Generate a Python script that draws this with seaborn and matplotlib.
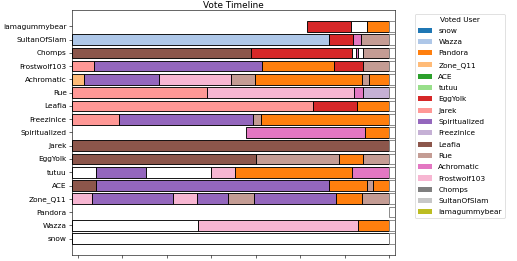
import matplotlib
matplotlib.use("Agg")
import matplotlib.pyplot as plt
from matplotlib.patches import Patch
import seaborn as sns

# Voters, bottom row first (same order the legend uses)
users = ["snow", "Wazza", "Pandora", "Zone_Q11", "ACE", "tutuu", "EggYolk",
         "Jarek", "Spiritualized", "FreezinIce", "Leafia", "Rue", "Achromatic",
         "Frostwolf103", "Chomps", "SultanOfSlam", "iamagummybear"]

# time axis in days
START = -0.135
END = 7.0
tick_days = [0, 1, 2, 3, 4, 5, 6, 7]

# (time the vote was cast, who got the vote); None = unvoted
snow_votes = [(START, None)]
wazza_votes = [(START, None), (2.70, "Frostwolf103"), (6.31, "Pandora")]
pandora_votes = []
zone_q11_votes = [(START, "Frostwolf103"), (0.32, "Spiritualized"), (2.15, "Frostwolf103"),
                  (2.69, "Spiritualized"), (3.38, "Rue"), (3.97, "Spiritualized"),
                  (5.81, "Pandora"), (6.40, "Rue")]
ace_votes = [(START, "Leafia"), (0.40, "Spiritualized"), (5.66, "Pandora"),
             (6.50, "Rue"), (6.64, "Pandora")]
tutuu_votes = [(START, None), (0.40, "Spiritualized"), (1.53, None),
               (2.99, "Frostwolf103"), (3.53, "Pandora"), (6.17, "Achromatic")]
eggyolk_votes = [(START, "Leafia"), (4.00, "Rue"), (5.87, "Pandora"), (6.42, "Rue")]
jarek_votes = [(START, "Leafia")]
spiritualized_votes = [(3.78, "Achromatic"), (6.47, "Pandora")]
freezinice_votes = [(START, "Jarek"), (0.93, "Spiritualized"), (3.95, "Rue"), (4.13, "Pandora")]
leafia_votes = [(START, "Jarek"), (5.28, "EggYolk"), (6.29, "Pandora")]
rue_votes = [(START, "Jarek"), (2.90, "Frostwolf103"), (6.21, "Achromatic"), (6.41, "FreezinIce")]
achromatic_votes = [(START, "Zone_Q11"), (0.135, "Spiritualized"), (1.82, "Frostwolf103"),
                    (3.44, "Rue"), (3.99, "Pandora"), (6.40, "Rue"), (6.55, "Pandora")]
frostwolf103_votes = [(START, "Jarek"), (0.37, "Spiritualized"), (4.15, "Pandora"),
                      (5.77, "EggYolk"), (6.42, "Rue")]
chomps_votes = [(START, "Leafia"), (3.90, "EggYolk"), (6.16, None), (6.25, "Achromatic"),
                (6.31, None), (6.41, "Rue")]
sultanofslam_votes = [(START, "Wazza"), (5.64, "EggYolk"), (6.18, "Achromatic"), (6.38, "Rue")]
iamagummybear_votes = [(5.16, "EggYolk"), (6.14, None), (6.50, "Pandora")]

timelines = {
    "snow": snow_votes, "Wazza": wazza_votes, "Pandora": pandora_votes,
    "Zone_Q11": zone_q11_votes, "ACE": ace_votes, "tutuu": tutuu_votes,
    "EggYolk": eggyolk_votes, "Jarek": jarek_votes, "Spiritualized": spiritualized_votes,
    "FreezinIce": freezinice_votes, "Leafia": leafia_votes, "Rue": rue_votes,
    "Achromatic": achromatic_votes, "Frostwolf103": frostwolf103_votes,
    "Chomps": chomps_votes, "SultanOfSlam": sultanofslam_votes,
    "iamagummybear": iamagummybear_votes,
}


def plot_vote_timeline():
    palette = dict(zip(users, sns.color_palette("tab20", len(users))))

    fig = plt.figure(figsize=(517 / 53, 261 / 53), dpi=53)
    ax = fig.add_subplot(111)
    fig.subplots_adjust(left=0.139, right=0.764, top=0.962, bottom=0.023)

    for row, user in enumerate(users):
        votes = timelines[user]
        times = [v[0] for v in votes] + [END]
        for (t, target), t_next in zip(votes, times[1:]):
            color = "white" if target is None else palette[target]
            ax.barh(row, t_next - t, left=t, height=0.8, color=color,
                    edgecolor="black", linewidth=1.2)
        # still-open slot after the last recorded vote
        ax.barh(row, 0.3, left=END, height=0.8, color="white",
                edgecolor="gray", linewidth=1.2)

    ax.set_yticks(range(len(users)))
    ax.set_yticklabels(users)
    ax.set_xticks(tick_days)
    ax.tick_params(axis="x", labelbottom=False)
    ax.set_xlim(START, 7.135)
    ax.set_title("Vote Timeline", pad=2)

    handles = [Patch(facecolor=palette[u], label=u) for u in users]
    ax.legend(handles=handles, title="Voted User", bbox_to_anchor=(1.05, 1), loc="upper left",
              labelspacing=0.7)

    fig.savefig("out.png", dpi=53)


if __name__ == "__main__":
    plot_vote_timeline()
